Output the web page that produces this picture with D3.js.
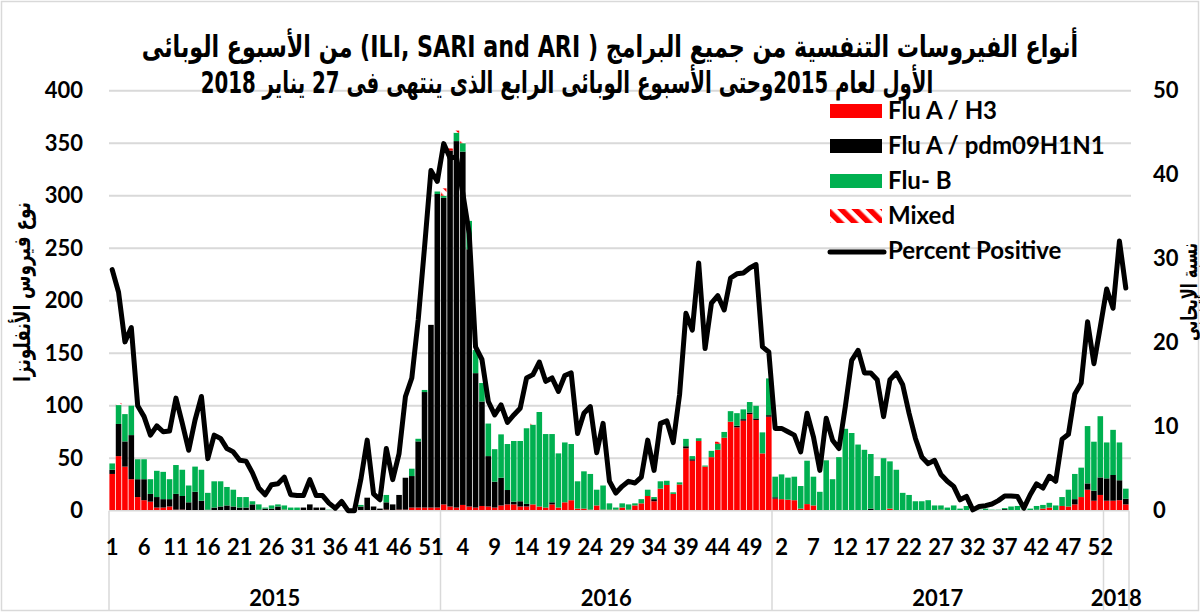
<!DOCTYPE html>
<html>
<head>
<meta charset="utf-8">
<script src="https://cdn.jsdelivr.net/npm/d3@7/dist/d3.min.js"></script>
<style>
body { margin: 0; background: #fff; }
svg { display: block; }
text { font-family: Lato, "Liberation Sans", sans-serif; font-weight: bold; fill: #000; }
.ar { font-family: "DejaVu Sans", sans-serif; }
</style>
</head>
<body>
<svg id="chart" width="1200" height="612"></svg>
<script>
// ---------- data ----------
var yearNames = ["2015", "2016", "2017", "2018"];
var yearWeeks = [52, 52, 52, 4];

// weekly counts, 2015 wk1 .. 2018 wk4
var fluH3 = [35,52,42,30,13,10,8.6,3,3,4, 1,1,0,0,0,0,0,0,0,0, 0,0,0,0,0,0,0,1,0,0, 0,0,0,0,0,0,0,0,0,0,
  0,0,0,1,0,1,1,3,3,3, 3,3,6,4,3,5.5,4,3,4.5,4, 3,5,6,6,4,4,6,4,3,6, 3,8,10,2,2,1,5,1,1,1,
  3,1,5,7,14,9,21,24.5,16,25, 59.4,47.6,66.4,42,51,58,69.5,84.8,79.4,85.7, 92,86.4,54.6,89.5,11.5,11,10.5,10,2,6.3,
  5,0,0,0,0,0,0,0,0,0, 0,0,2,0,0,0,0,0,0,0, 1,0,0,0,0,0,0,0,0,0, 0,0,0,0,0,0,2,3,0,4.5,
  4,6,13,20,9.5,15,9.5,9.5,10,6];
var fluH1 = [4,30.6,24,42,17,20,7.4,10,8,7, 15,13,8,18,9.5,1,3,4,5,4, 3,3,6,1,2,2,4,0,0,0, 3,6,3,3,0,0,0,1,1,4,
  12.4,4,2,7,6,14,30.4,30,63,110, 174,298.6,292,339,349,336.5,245,128,99.5,48, 24.6,26.4,13.7,2.6,5,2.5,0,0,0,2,
  0,0,0,0,0,0,0,0,0,0, 0,0,0,0,0,2,0,0,0,0, 2,1.4,0,0,0,0,0,0,1.5,1.5, 1.5,1.5,0,1.5,1.3,0,0,0,0,0,
  0,0,0,0,0,0,0,0,0,2, 0,0,0,0,0,0,0,0,0,0, 0,0,0,0,0,0,0,0,0,0, 1.5,0,0,0,0,1,0,0,0,0,
  0,5,0,6,9.5,16.7,21.3,24.5,19,5.4];
var fluB = [6,18,26,28,19,19,14,25,26,19, 27.5,25,16,24,29.5,16,25,24,17.6,16, 10,10,3,5,1,3,2,4,3,3, 0,0,0,0,1,0,0,0,0,1.5,
  0,0,0,7,0,0,0,7,2.5,2, 0,2.4,2,0,8,8,27,22,17.6,31, 31,41.3,43.8,57.8,57.4,72,76,90,70,65, 51.6,57,53.5,26,35.5,34,15,23,6,2,
  4,5,2,4,6,2,7,4,1.5,2, 7,3,2.6,1,6,5.7,5.5,10,12,9.3, 10,12,20,35,19.6,23.6,21,22.4,21.5,41.3, 27.4,18,48,30,51,78,74,63,58,52,
  33,50,45,39,17,15,9,9,10,5, 4,3,5,2,4.5,1,1,2,1,1, 1,4,4.5,1,2,3.5,3.5,4.5,5,8.5,
  16,24,28,54.6,46.7,58.3,34.2,43,36,9.6];
var mixed = [0,2,0,0,0,0,0,0,0,0, 0,0,0,0,0,0,0,0,0,0, 0,0,0,0,0,0,0,0,0,0, 0,0,0,0,0,0,0,0,0,0,
  0,0,0,0,0,0,0,0,0,0, 0,0,7,2,2,2,0,0,0,0, 0,0,0,0,0,0,1,0,0,0, 0,0,0,0,0,0,0,0,0,0,
  0,0,0,0,0,0,0,0,0,0, 0,0,0,0,0,2,0,0,0,0, 0,0,0,0,0,0,0,0,0,0, 0,0,0,0,0,0,0,0,0,0,
  0,0,0,0,0,0,0,0,0,0, 0,0,0,0,0,0,0,0,0,0, 0,0,0,0,0,0,0,0,0,0, 0,0,0,0,0,0,0,0,0,0];
// percent positive (right axis)
var pctPos = [28.7,26,20.1,21.8,12.5,11.2,9,10.1,9.4,9.5, 13.4,10.4,7.2,10.8,13.6,6.2,9,8.6,7.4,7, 6,5.9,4.5,2.7,1.9,3.1,3.2,4,1.9,1.8, 1.8,3.7,1.8,1.8,0.9,0.3,1.1,0,0,3.7,
  8.4,2,1.3,7.4,3.7,6.8,13.6,15.8,22.7,31.4, 40.5,39.2,43.7,42,42.1,37.8,33,19.5,18,13, 11.4,12.6,10.5,11.4,12.2,15.8,16.2,17.7,15.4,15.8, 14.2,16.1,16.4,9.2,11.6,12.4,6.9,10.4,3.5,2.1,
  2.9,3.5,3.3,4,8.4,4.8,10.4,10.7,8.1,13.8, 23.5,21.5,29.5,19.3,24.7,25.6,23.9,27.7,28.2,28.3, 28.9,29.3,19.5,18.9,9.8,9.8,9.4,9,7,11.6, 8.8,4.8,11,8.4,7.4,12.4,17.9,19.1,16.4,16.4,
  15.6,11.2,15.6,16.4,15,11.6,8.6,6.4,5.6,6, 4.3,3.5,2.9,1.3,1.7,0.1,0.5,0.6,0.8,1.2, 1.75,1.75,1.7,0.3,1.9,3.2,2.7,4.1,3.5,8.5,
  9.1,13.9,15.2,22.5,17.5,21.9,26.4,24.1,32.1,26.5];

var seriesNames = ["Flu A / H3", "Flu A / pdm09H1N1", "Flu- B", "Mixed"];
var seriesColors = ["#ff0000", "#000000", "#00b050", "url(#mixedPat)"];
var lineName = "Percent Positive";
var leftTicks = [0, 50, 100, 150, 200, 250, 300, 350, 400];
var rightTicks = [0, 10, 20, 30, 40, 50];
var titleLines = [
  "أنواع الفيروسات التنفسية من جميع البرامج ( ILI, SARI and ARI)  من الأسبوع الوبائى",
  "الأول لعام 2015وحتى الأسبوع الوبائى الرابع الذى ينتهى فى 27 يناير 2018"
];
var leftTitle = "نوع فيروس الأنفلونزا";
var rightTitle = "نسبة الإيجابي";

// ---------- layout ----------
var plot = {left: 109, right: 1129, top: 90.7, bottom: 510.7};
var svg = d3.select("#chart");

var weeks = [];
yearWeeks.forEach(function(n, yi) {
  for (var w = 1; w <= n; w++) weeks.push({year: yearNames[yi], week: w, key: yearNames[yi] + "-" + w});
});
var rows = weeks.map(function(d, i) {
  return {key: d.key, week: d.week, h3: fluH3[i], h1: fluH1[i], b: fluB[i], mix: mixed[i], pct: pctPos[i]};
});

var x = d3.scaleBand().domain(weeks.map(d => d.key)).range([plot.left, plot.right]).padding(0);
var y = d3.scaleLinear().domain([0, 400]).range([plot.bottom, plot.top]);
var y2 = d3.scaleLinear().domain([0, 50]).range([plot.bottom, plot.top]);

var defs = svg.append("defs");
var pat = defs.append("pattern")
    .attr("id", "mixedPat")
    .attr("patternUnits", "userSpaceOnUse")
    .attr("width", 10).attr("height", 10)
    .attr("patternTransform", "rotate(-45)");
pat.append("rect").attr("width", 10).attr("height", 10).attr("fill", "#fff");
pat.append("rect").attr("width", 5.5).attr("height", 10).attr("fill", "#ff0000");

// outer frame
svg.append("rect")
    .attr("x", 1.5).attr("y", 1.5).attr("width", 1197).attr("height", 609)
    .attr("fill", "#fff").attr("stroke", "#d9d9d9").attr("stroke-width", 1.5);

// gridlines
svg.append("g").selectAll("line")
    .data(leftTicks.slice(1))
    .enter().append("line")
    .attr("x1", plot.left).attr("x2", plot.right + 2)
    .attr("y1", d => y(d)).attr("y2", d => y(d))
    .attr("stroke", "#d9d9d9").attr("stroke-width", 2);

// stacked bars
var stack = d3.stack().keys(["h3", "h1", "b", "mix"]);
var layers = stack(rows);
svg.append("g").selectAll("g")
    .data(layers)
    .enter().append("g")
    .attr("fill", (d, i) => seriesColors[i])
    .selectAll("rect")
    .data(d => d.filter(p => p[1] - p[0] > 0))
    .enter().append("rect")
    .attr("x", d => x(d.data.key) + 0.4)
    .attr("width", x.bandwidth() - 0.8)
    .attr("y", d => y(d[1]))
    .attr("height", d => y(d[0]) - y(d[1]));

// x axis line and category separators
svg.append("line")
    .attr("x1", plot.left).attr("x2", plot.right)
    .attr("y1", plot.bottom).attr("y2", plot.bottom)
    .attr("stroke", "#d9d9d9").attr("stroke-width", 1.5);

var yearStarts = [];
var acc = 0;
yearWeeks.forEach(function(n, yi) {
  yearStarts.push({name: yearNames[yi], from: acc, to: acc + n});
  acc += n;
});
var sepX = yearStarts.map(d => x(weeks[d.from].key)).concat([plot.right]);
svg.append("g").selectAll("line")
    .data(sepX)
    .enter().append("line")
    .attr("x1", d => d).attr("x2", d => d)
    .attr("y1", plot.bottom).attr("y2", 611)
    .attr("stroke", "#d9d9d9").attr("stroke-width", 1.5);

// week labels, every 5th week
var xAxis = d3.axisBottom(x)
    .tickValues(weeks.filter((d, i) => i % 5 == 0).map(d => d.key))
    .tickFormat(k => k.split("-")[1])
    .tickSize(0).tickPadding(30);
var gx = svg.append("g").attr("transform", "translate(0," + plot.bottom + ")").call(xAxis);
gx.select(".domain").remove();
gx.selectAll("text").attr("font-size", 22).style("font-family", null).attr("dy", "0.35em").attr("y", 37);

// year labels
svg.append("g").selectAll("text")
    .data(yearStarts)
    .enter().append("text")
    .attr("x", d => (x(weeks[d.from].key) + x(weeks[d.to - 1].key) + x.bandwidth()) / 2)
    .attr("y", 598)
    .attr("dy", "0.35em")
    .attr("text-anchor", "middle")
    .attr("font-size", 22)
    .text(d => d.name);

// left axis
var gl = svg.append("g").attr("transform", "translate(" + (plot.left - 26) + ",0)")
    .call(d3.axisLeft(y).tickValues(leftTicks).tickSize(0).tickPadding(0));
gl.select(".domain").remove();
gl.selectAll("text").attr("font-size", 22).style("font-family", null);

// right axis
var gr = svg.append("g").attr("transform", "translate(" + (plot.right + 24) + ",0)")
    .call(d3.axisRight(y2).tickValues(rightTicks).tickSize(0).tickPadding(0));
gr.select(".domain").remove();
gr.selectAll("text").attr("font-size", 22).style("font-family", null);

// percent positive line
var line = d3.line()
    .x(d => x(d.key) + x.bandwidth() / 2)
    .y(d => y2(d.pct));
svg.append("path")
    .datum(rows)
    .attr("d", line)
    .attr("fill", "none")
    .attr("stroke", "#000")
    .attr("stroke-width", 5)
    .attr("stroke-linejoin", "round")
    .attr("stroke-linecap", "round");

// legend
var legend = svg.append("g").attr("transform", "translate(830,111)");
var legItems = seriesNames.map((n, i) => ({name: n, fill: seriesColors[i], type: "rect"}))
    .concat([{name: lineName, type: "line"}]);
var li = legend.selectAll("g")
    .data(legItems)
    .enter().append("g")
    .attr("transform", (d, i) => "translate(0," + (i * 35) + ")");
li.filter(d => d.type == "rect").append("rect")
    .attr("x", 0).attr("y", -7).attr("width", 52).attr("height", 14)
    .attr("fill", d => d.fill);
li.filter(d => d.type == "line").append("line")
    .attr("x1", 0).attr("x2", 54).attr("y1", 1).attr("y2", 1)
    .attr("stroke", "#000").attr("stroke-width", 5).attr("stroke-linecap", "round");
li.append("text")
    .attr("x", 58).attr("y", 0).attr("dy", "0.35em")
    .attr("font-size", 24)
    .text(d => d.name);

// fit a text horizontally into a width
function fitWidth(sel, cx, cy, w, rot) {
  var len = sel.node().getComputedTextLength();
  var s = w / len;
  sel.attr("x", 0).attr("y", 0)
     .attr("transform", "translate(" + cx + "," + cy + ")" + (rot ? " rotate(" + rot + ")" : "") + " scale(" + s + ",1)");
}

// title
var titleSpec = [{cx: 610, cy: 57, w: 937}, {cx: 567, cy: 93, w: 733}];
titleLines.forEach(function(t, i) {
  var tt = svg.append("text").attr("class", "ar")
      .attr("text-anchor", "middle")
      .attr("direction", "rtl")
      .attr("font-size", 30)
      .text(t);
  fitWidth(tt, titleSpec[i].cx, titleSpec[i].cy, titleSpec[i].w, 0);
});

// axis titles
var lt = svg.append("text").attr("class", "ar")
    .attr("text-anchor", "middle").attr("direction", "rtl")
    .attr("font-size", 23).attr("dy", "0.35em")
    .text(leftTitle);
fitWidth(lt, 22, 292, 180, -90);

var rt = svg.append("text").attr("class", "ar")
    .attr("text-anchor", "middle").attr("direction", "rtl")
    .attr("font-size", 22).attr("dy", "0.35em")
    .text(rightTitle);
fitWidth(rt, 1189, 292, 98, -90);
</script>
</body>
</html>
